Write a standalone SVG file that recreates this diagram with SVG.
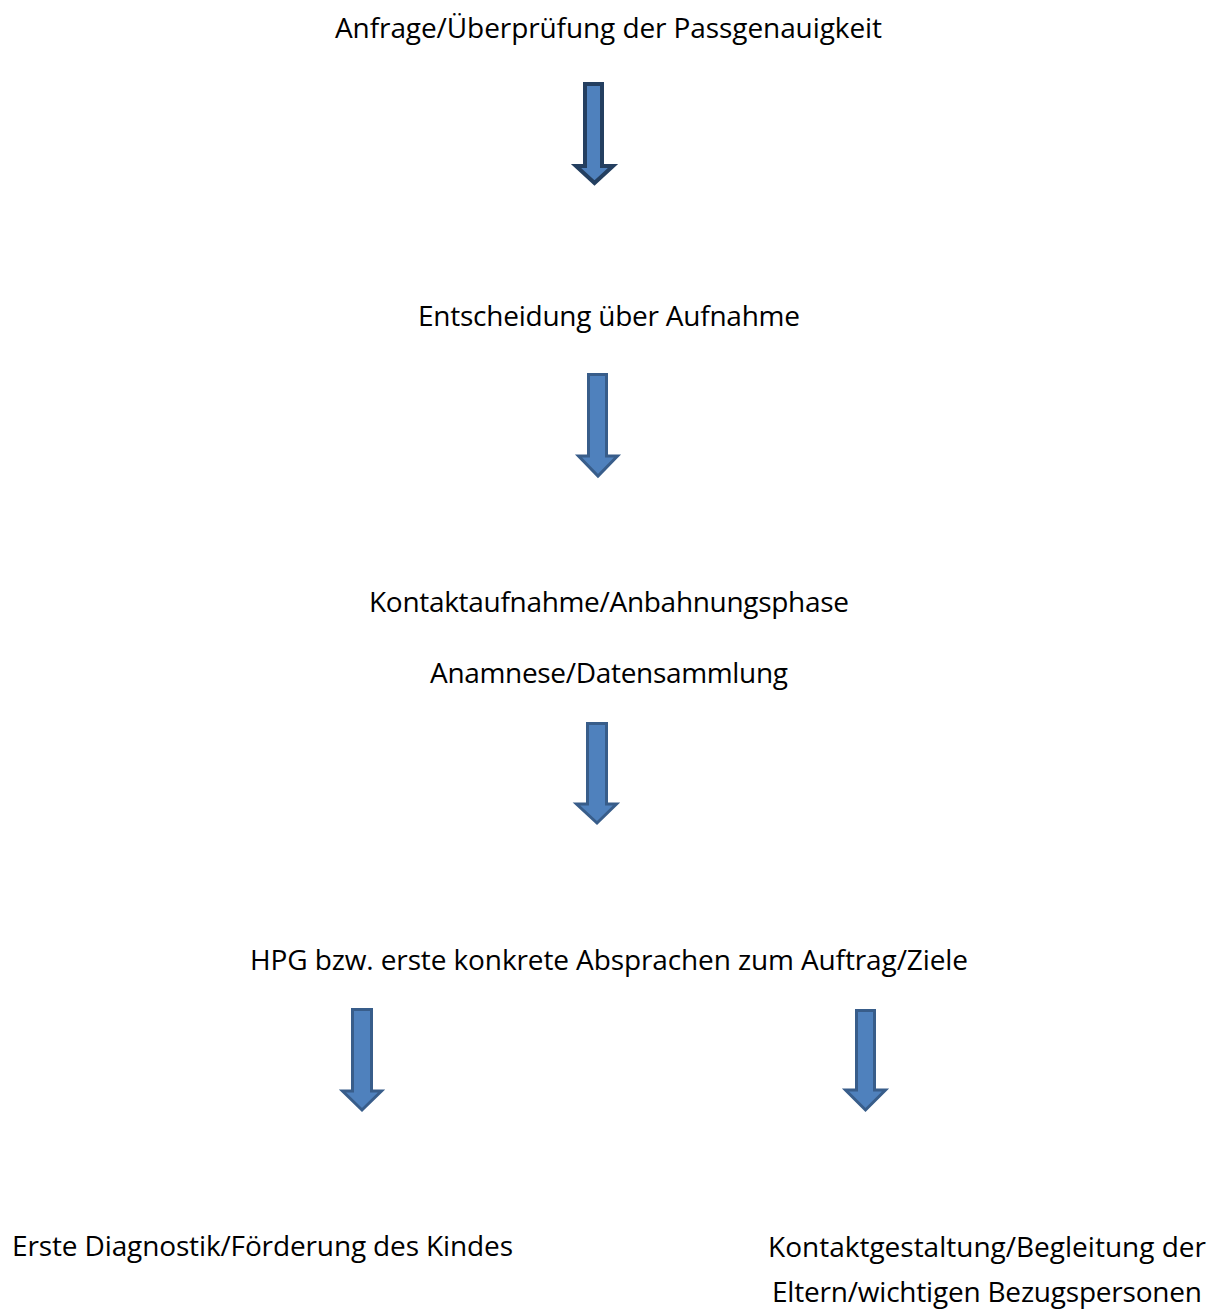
<svg xmlns="http://www.w3.org/2000/svg" width="1224" height="1309" viewBox="0 0 1224 1309">
<style>
.t{font-family:"Open Sans","Noto Sans","Liberation Sans",sans-serif;font-size:28px;fill:#000}
.a{fill:#4F81BD;stroke:#385D8A;stroke-width:3;stroke-linejoin:miter}
.a1{stroke:#243F60;stroke-width:4}
</style>
<rect width="1224" height="1309" fill="#fff"/>
<g id="n1"><text class="t" x="335" y="38" textLength="547">Anfrage/Überprüfung der Passgenauigkeit</text></g>
<g id="n2"><text class="t" x="418" y="326" textLength="382">Entscheidung über Aufnahme</text></g>
<g id="n3"><text class="t" x="369" y="612" textLength="480">Kontaktaufnahme/Anbahnungsphase</text><text class="t" x="430" y="683" textLength="358">Anamnese/Datensammlung</text></g>
<g id="n4"><text class="t" x="250" y="970" textLength="718">HPG bzw. erste konkrete Absprachen zum Auftrag/Ziele</text></g>
<g id="n5"><text class="t" x="12" y="1256" textLength="501">Erste Diagnostik/Förderung des Kindes</text></g>
<g id="n6"><text class="t" x="768" y="1257" textLength="438">Kontaktgestaltung/Begleitung der</text><text class="t" x="772" y="1302" textLength="430">Eltern/wichtigen Bezugspersonen</text></g>
<g id="connectors">
<polygon class="a a1" points="585,84 602,84 602,166 613,166 594.5,183 576,166 585,166"/>
<polygon class="a" points="588.5,374.5 606.5,374.5 606.5,456 617.5,456 598,476 578.5,456 588.5,456"/>
<polygon class="a" points="587.5,723.5 606.5,723.5 606.5,804 616.5,804 597,823 576.5,804 587.5,804"/>
<polygon class="a" points="352.5,1009.5 371.5,1009.5 371.5,1091 381.5,1091 362,1110 342.5,1091 352.5,1091"/>
<polygon class="a" points="856.5,1010.5 874.5,1010.5 874.5,1090 885.5,1090 865.5,1110 845.5,1090 856.5,1090"/>
</g>
</svg>
